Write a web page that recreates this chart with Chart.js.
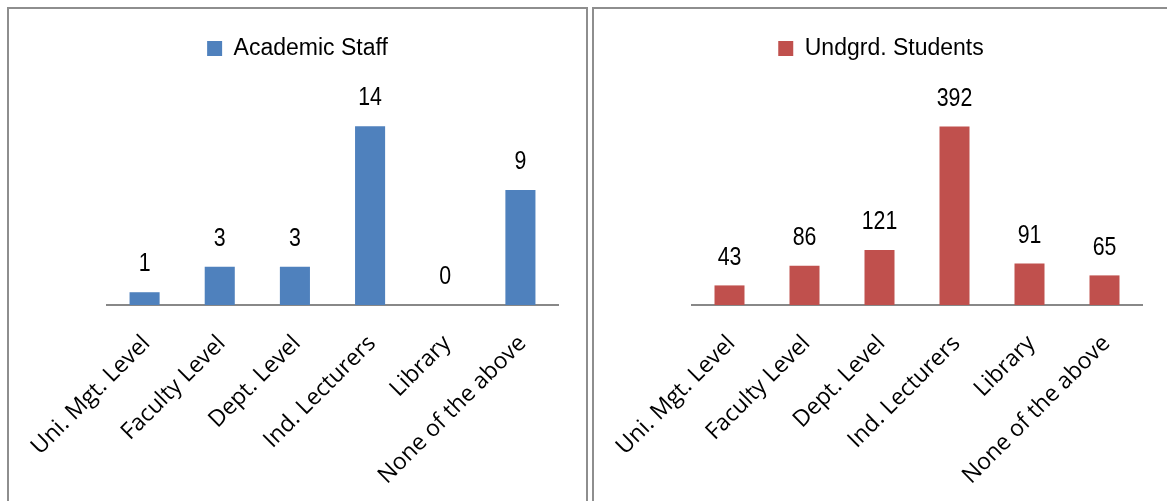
<!DOCTYPE html>
<html><head><meta charset="utf-8">
<script src="https://cdn.jsdelivr.net/npm/chart.js@4.4.1/dist/chart.umd.min.js"></script>
<style>
html,body{margin:0;padding:0;background:#fff;width:1167px;height:501px;overflow:hidden;}
.box{position:absolute;top:7px;border:2px solid #8e8e8e;box-sizing:border-box;}
#b1{left:7px;width:581px;height:540px;}
#b2{left:592px;width:600px;height:540px;}
.cv{position:absolute;top:9px;}
#w1{left:9px;width:577px;height:492px;}
#w2{left:595px;width:572px;height:492px;}
</style></head>
<body>
<div class="box" id="b1"></div>
<div class="box" id="b2"></div>
<div class="cv" id="w1"><canvas id="c1"></canvas></div>
<div class="cv" id="w2"><canvas id="c2"></canvas></div>
<script>
const categories = ["Uni. Mgt. Level", "Faculty Level", "Dept. Level", "Ind. Lecturers", "Library", "None of the above"];
const staffLabel = "Academic Staff";
const staffValues = [1, 3, 3, 14, 0, 9];
const studentLabel = "Undgrd. Students";
const studentValues = [43, 86, 121, 392, 91, 65];

const valueLabels = {
  id: 'valueLabels',
  afterDatasetsDraw(chart) {
    const ctx = chart.ctx;
    chart.data.datasets.forEach((ds, i) => {
      chart.getDatasetMeta(i).data.forEach((el, j) => {
        ctx.save();
        ctx.font = '26px "Liberation Sans", Arial, sans-serif';
        ctx.fillStyle = '#000';
        ctx.textAlign = 'center';
        ctx.textBaseline = 'middle';
        ctx.translate(el.x, el.y - 28);
        ctx.scale(0.82, 1);
        ctx.fillText(String(ds.data[j]), 0, 0);
        ctx.restore();
      });
    });
  }
};

function makeChart(id, label, values, color, yMax, leftW, rightW) {
  new Chart(document.getElementById(id), {
    type: 'bar',
    data: { labels: categories, datasets: [{ label: label, data: values, backgroundColor: color, borderWidth: 0, barPercentage: 0.4, categoryPercentage: 1 }] },
    plugins: [valueLabels],
    options: {
      responsive: true, maintainAspectRatio: false, animation: false,
      layout: { padding: { top: 14 } },
      plugins: {
        tooltip: { enabled: false },
        legend: {
          position: 'top', align: 'center',
          labels: { font: { family: '"Liberation Sans", Arial, sans-serif', size: 23 }, color: '#000', boxWidth: 15, boxHeight: 15, padding: 14 }
        }
      },
      scales: {
        x: {
          grid: { display: false, drawTicks: false },
          border: { display: true, color: '#888888', width: 2 },
          ticks: { autoSkip: false, minRotation: 45, maxRotation: 45, padding: 25, labelOffset: 2, color: '#000', font: { family: '"Open Sans", sans-serif', size: 23 } },
          afterFit(s) { s.height = 196; s.paddingLeft = 0; s.paddingRight = 0; }
        },
        y: {
          position: 'left', min: 0, max: yMax,
          grid: { display: false }, border: { display: false }, ticks: { display: false },
          afterFit(s) { s.width = leftW; }
        },
        yr: {
          position: 'right', type: 'linear',
          grid: { display: false }, border: { display: false }, ticks: { display: false },
          afterFit(s) { s.width = rightW; }
        }
      }
    }
  });
}
makeChart('c1', staffLabel, staffValues, '#4F81BD', 18.4, 98, 28);
makeChart('c2', studentLabel, studentValues, '#C0504D', 516, 97, 25);
</script>
</body></html>
